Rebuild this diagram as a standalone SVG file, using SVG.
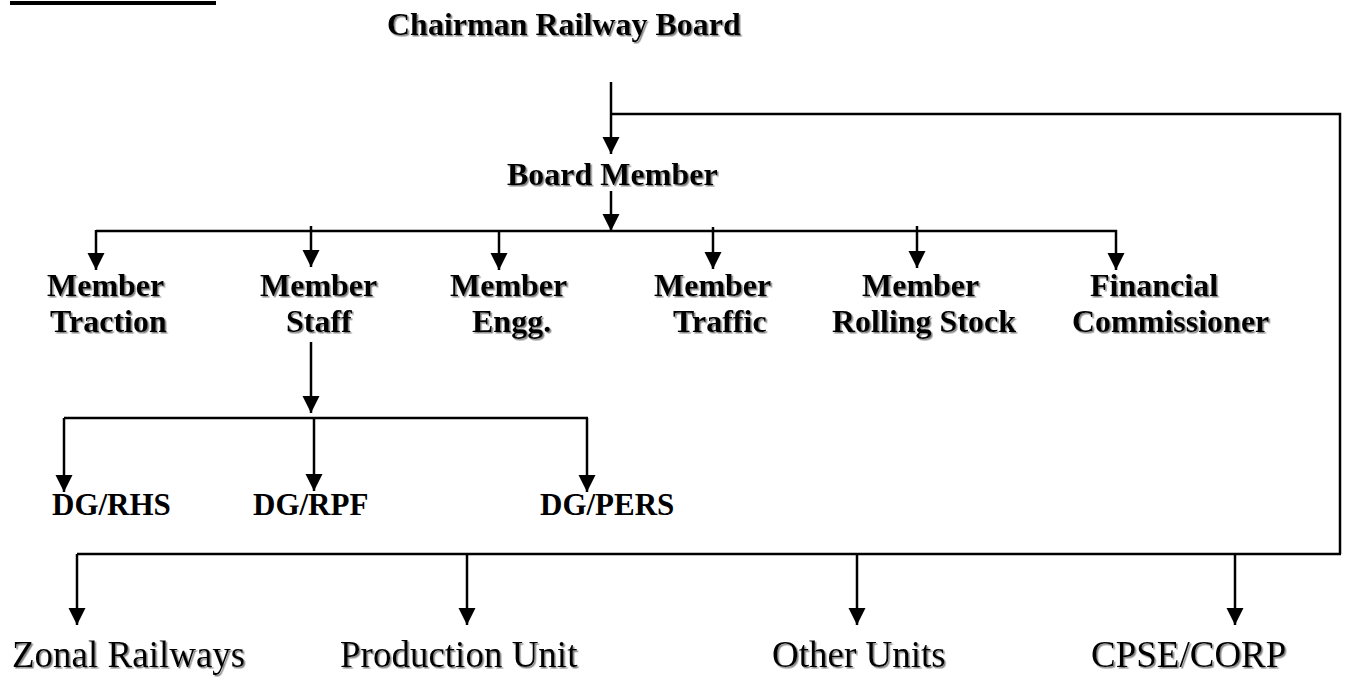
<svg xmlns="http://www.w3.org/2000/svg" width="1347" height="677" viewBox="0 0 1347 677">
<style>
.b{font-family:"Liberation Serif","Times New Roman",serif;font-weight:bold;font-size:32px;fill:#000}
.d{font-family:"Liberation Serif","Times New Roman",serif;font-weight:bold;font-size:31px;fill:#000}
.r{font-family:"Liberation Serif","Times New Roman",serif;font-size:37px;fill:#000}
.sh{filter:url(#shadow)}
.ln{stroke:#000;stroke-width:2.5;fill:none}
.ar{stroke:#000;stroke-width:2.5;fill:none;marker-end:url(#ah)}
</style>
<defs>
<filter id="shadow" x="-5%" y="-20%" width="115%" height="150%">
<feDropShadow dx="1.5" dy="1.5" stdDeviation="0.7" flood-color="#777" flood-opacity="0.9"/>
</filter>
<marker id="ah" markerUnits="userSpaceOnUse" markerWidth="18" markerHeight="18" refX="17" refY="9" orient="auto" viewBox="0 0 18 18">
<path d="M0,0.5 L17,9 L0,17.5 Z" fill="#000"/>
</marker>
</defs>
<rect x="10" y="1" width="206" height="4" fill="#000"/>
<g id="connectors">
<line class="ar" x1="611" y1="82" x2="611" y2="154"/>
<polyline class="ln" points="611,114 1340,114 1340,554"/>
<line class="ar" x1="611" y1="191" x2="611" y2="231"/>
<line class="ln" x1="96" y1="231" x2="1117" y2="231"/>
<line class="ar" x1="96" y1="230" x2="96" y2="270"/>
<line class="ar" x1="311" y1="226" x2="311" y2="267"/>
<line class="ar" x1="499" y1="230" x2="499" y2="270"/>
<line class="ar" x1="713" y1="227" x2="713" y2="269"/>
<line class="ar" x1="917" y1="226" x2="917" y2="268"/>
<line class="ar" x1="1116" y1="230" x2="1116" y2="270"/>
<line class="ar" x1="311" y1="342" x2="311" y2="413"/>
<line class="ln" x1="64" y1="418" x2="588" y2="418"/>
<line class="ar" x1="64" y1="418" x2="64" y2="492"/>
<line class="ar" x1="314" y1="418" x2="314" y2="491"/>
<line class="ar" x1="587" y1="418" x2="587" y2="492"/>
<line class="ln" x1="77" y1="554" x2="1341" y2="554"/>
<line class="ar" x1="77" y1="554" x2="77" y2="625"/>
<line class="ar" x1="467" y1="554" x2="467" y2="625"/>
<line class="ar" x1="857" y1="554" x2="857" y2="625"/>
<line class="ar" x1="1235" y1="554" x2="1235" y2="625"/>
</g>
<g id="chairman"><text class="b sh" x="387" y="35">Chairman Railway Board</text></g>
<g id="board-member"><text class="b sh" x="507" y="185">Board Member</text></g>
<g id="member-traction"><text class="b sh" x="47" y="296">Member</text><text class="b sh" x="50" y="332">Traction</text></g>
<g id="member-staff"><text class="b sh" x="260" y="296">Member</text><text class="b sh" x="286" y="332">Staff</text></g>
<g id="member-engg"><text class="b sh" x="450" y="296">Member</text><text class="b sh" x="472" y="332">Engg.</text></g>
<g id="member-traffic"><text class="b sh" x="654" y="296">Member</text><text class="b sh" x="673" y="332">Traffic</text></g>
<g id="member-rolling"><text class="b sh" x="862" y="296">Member</text><text class="b sh" x="832" y="332">Rolling Stock</text></g>
<g id="financial"><text class="b sh" x="1090" y="296">Financial</text><text class="b sh" x="1072" y="332">Commissioner</text></g>
<g id="dg-rhs"><text class="d" x="52" y="515">DG/RHS</text></g>
<g id="dg-rpf"><text class="d" x="253" y="515">DG/RPF</text></g>
<g id="dg-pers"><text class="d" x="540" y="515">DG/PERS</text></g>
<g id="zonal"><text class="r sh" x="12" y="667">Zonal Railways</text></g>
<g id="production"><text class="r sh" x="340" y="667">Production Unit</text></g>
<g id="other"><text class="r sh" x="772" y="667">Other Units</text></g>
<g id="cpse"><text class="r sh" x="1091" y="667">CPSE/CORP</text></g>
</svg>
